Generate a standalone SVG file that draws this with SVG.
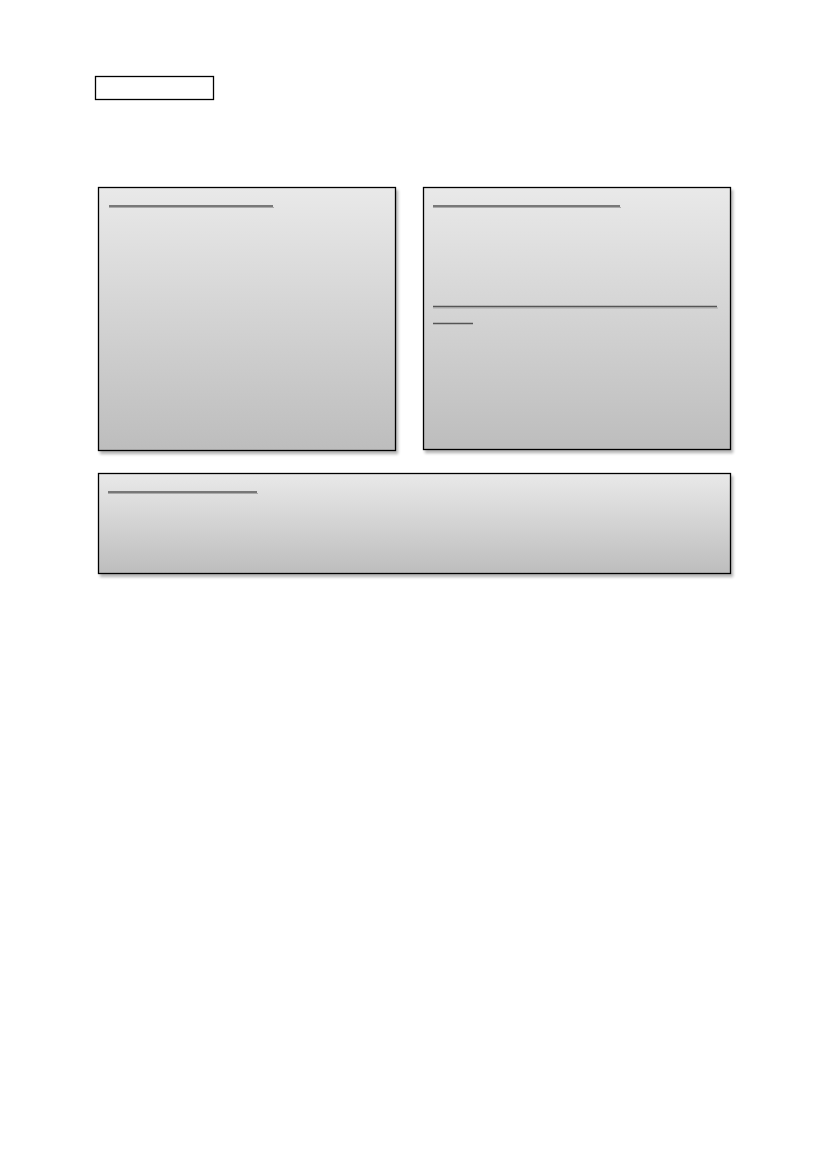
<svg xmlns="http://www.w3.org/2000/svg" width="827" height="1169" viewBox="0 0 827 1169">
<style>
.panel{stroke:#000;stroke-width:1.3;fill:url(#g)}
.ul{stroke:#555;stroke-width:1.5}
.ulsh{stroke:#aaa;stroke-width:1}
</style>
<defs>
<linearGradient id="g" x1="0" y1="0" x2="0" y2="1">
<stop offset="0" stop-color="#e9e9e9"/>
<stop offset="1" stop-color="#bdbdbd"/>
</linearGradient>
<filter id="sh" x="-5%" y="-5%" width="115%" height="120%">
<feGaussianBlur in="SourceAlpha" stdDeviation="1.5"/>
<feOffset dx="2" dy="3"/>
<feComponentTransfer><feFuncA type="linear" slope="0.3"/></feComponentTransfer>
<feMerge><feMergeNode/><feMergeNode in="SourceGraphic"/></feMerge>
</filter>
</defs>
<rect width="827" height="1169" fill="#fff"/>
<g id="label-box">
<rect x="95.5" y="76.5" width="118" height="23" fill="#fff" stroke="#000" stroke-width="1.3"/>
</g>
<g id="panel-left" filter="url(#sh)">
<rect class="panel" x="98.5" y="187.5" width="297" height="263"/>
</g>
<g id="panel-left-lines">
<line class="ulsh" x1="109" y1="207.5" x2="274" y2="207.5"/>
<line class="ul" x1="109" y1="206" x2="273" y2="206"/>
</g>
<g id="panel-right" filter="url(#sh)">
<rect class="panel" x="423.5" y="187.5" width="307" height="262"/>
</g>
<g id="panel-right-lines">
<line class="ulsh" x1="433" y1="207.5" x2="621" y2="207.5"/>
<line class="ul" x1="433" y1="206" x2="620" y2="206"/>
<line class="ulsh" x1="433" y1="308" x2="718" y2="308"/>
<line class="ul" x1="433" y1="306.5" x2="717" y2="306.5"/>
<line class="ul" x1="433" y1="323.5" x2="473" y2="323.5"/>
</g>
<g id="panel-bottom" filter="url(#sh)">
<rect class="panel" x="98.5" y="473.5" width="632" height="100"/>
</g>
<g id="panel-bottom-lines">
<line class="ulsh" x1="108" y1="493.5" x2="258" y2="493.5"/>
<line class="ul" x1="108" y1="492" x2="257" y2="492"/>
</g>
<g id="connectors"></g>
</svg>
